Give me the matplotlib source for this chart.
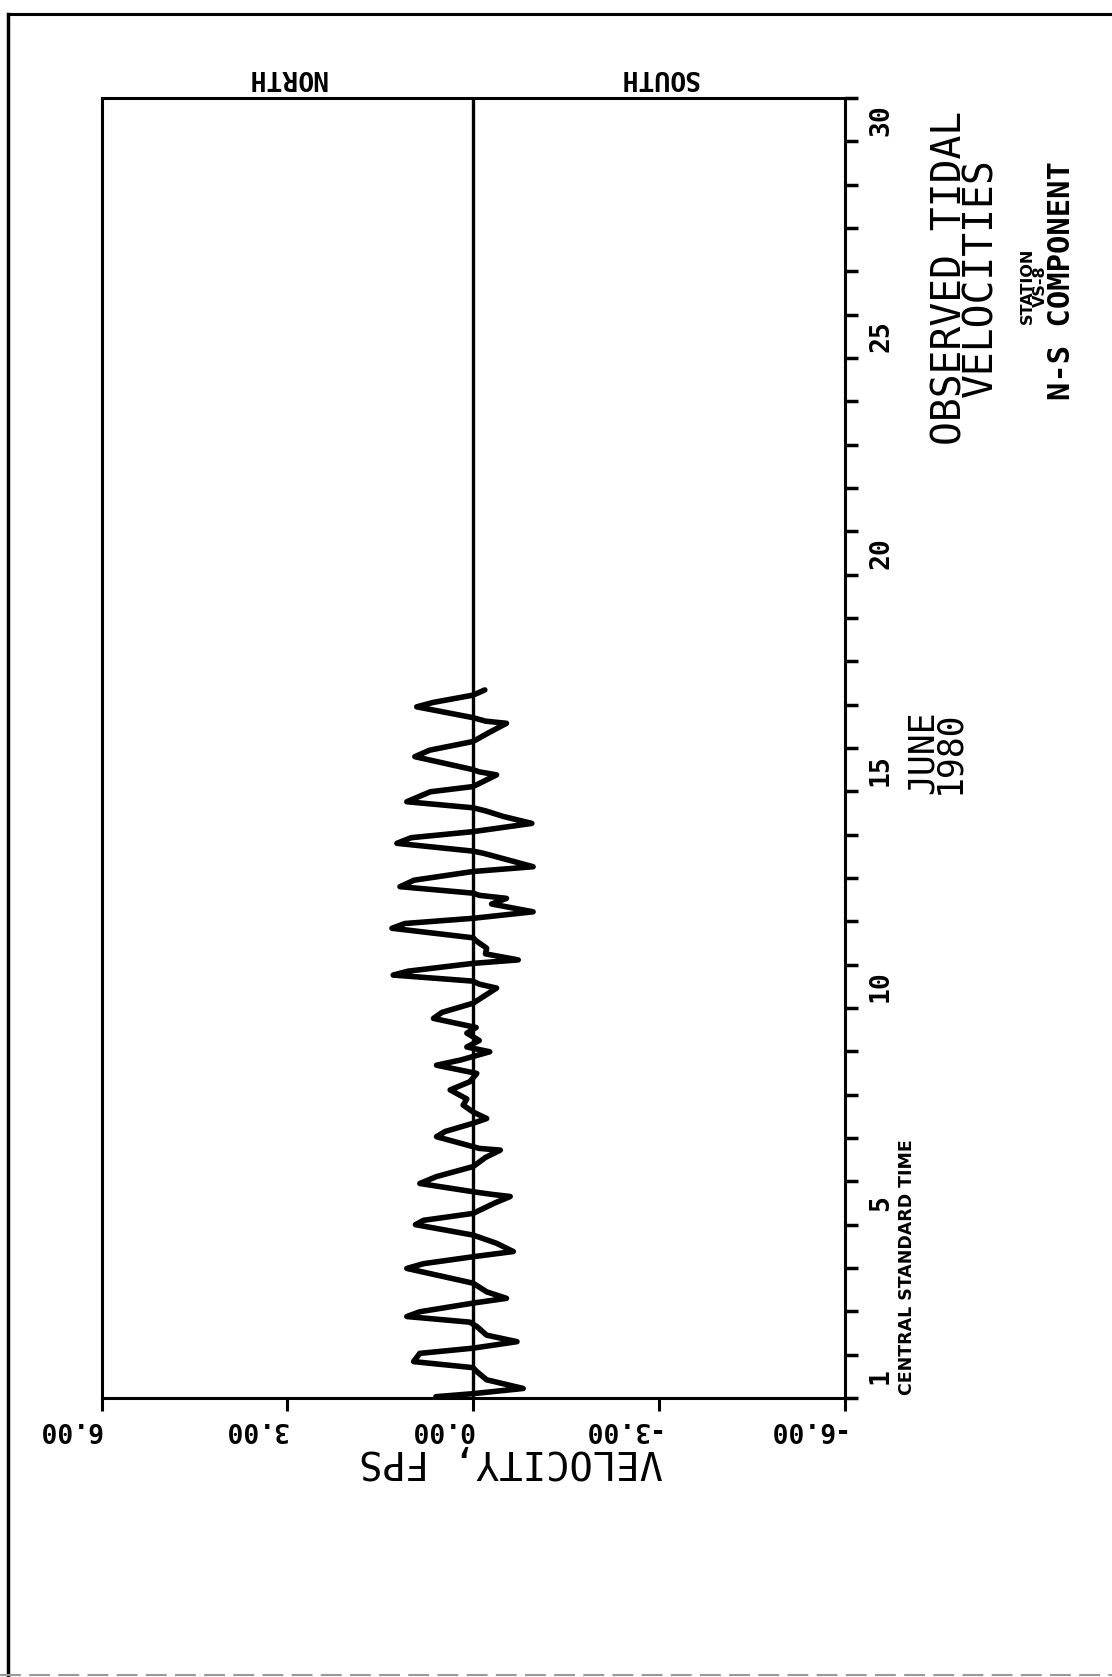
import matplotlib
matplotlib.use("Agg")
import matplotlib.pyplot as plt
from matplotlib.lines import Line2D

# ----------------------------
# DATA
# ----------------------------
day = [
    1.03, 1.10, 1.22, 1.42, 1.61, 1.70, 1.84, 2.03, 2.15, 2.30,
    2.45, 2.65, 2.75, 2.88, 2.99, 3.19, 3.30, 3.45, 3.65, 3.99,
    4.10, 4.26, 4.38, 4.57, 4.76, 5.00, 5.10, 5.26, 5.50, 5.65,
    5.70, 5.76, 5.95, 6.11, 6.34, 6.55, 6.72, 6.76, 6.80, 7.03,
    7.15, 7.34, 7.45, 7.60, 7.76, 7.90, 8.11, 8.30, 8.49, 8.68,
    8.80, 8.99, 9.10, 9.25, 9.42, 9.55, 9.76, 9.90, 10.11, 10.46,
    10.55, 10.62, 10.76, 10.85, 11.03, 11.11, 11.25, 11.38, 11.55, 11.62,
    11.84, 11.95, 12.07, 12.22, 12.40, 12.53, 12.60, 12.65, 12.80, 12.95,
    13.15, 13.26, 13.57, 13.62, 13.80, 13.93, 14.07, 14.26, 14.42, 14.55,
    14.62, 14.76, 14.99, 15.11, 15.38, 15.45, 15.50, 15.80, 15.95, 16.15,
    16.35, 16.57, 16.62, 16.70, 16.95, 17.05, 17.22, 17.34,
]
velocity = [
    0.60, 0.00, -0.81, -0.22, -0.06, 0.00, 0.96, 0.86, 0.00, -0.71,
    -0.22, -0.06, 0.05, 1.07, 0.86, 0.00, -0.54, -0.22, 0.00, 1.07,
    0.80, 0.00, -0.65, -0.38, 0.00, 0.93, 0.80, 0.00, -0.35, -0.60,
    -0.30, 0.00, 0.86, 0.59, 0.00, -0.20, -0.44, -0.10, 0.00, 0.59,
    0.45, 0.00, -0.22, 0.00, 0.16, 0.10, 0.37, 0.05, -0.06, 0.59,
    0.20, -0.27, 0.10, -0.10, 0.10, -0.05, 0.64, 0.50, 0.00, -0.38,
    -0.10, 0.00, 1.29, 1.05, 0.00, -0.73, -0.20, -0.22, -0.05, 0.00,
    1.31, 1.10, 0.00, -0.97, -0.30, -0.54, -0.10, 0.00, 1.18, 0.95,
    0.00, -0.97, -0.17, 0.00, 1.23, 1.00, 0.00, -0.95, -0.49, -0.20,
    0.00, 1.07, 0.69, 0.00, -0.38, -0.10, 0.00, 0.94, 0.70, 0.00,
    -0.25, -0.54, -0.20, 0.00, 0.91, 0.65, 0.00, -0.19,
]

vel_ticks = [6, 3, 0, -3, -6]
vel_labels = ["6.00", "3.00", "0.00", "-3.00", "-6.00"]
day_label_vals = [1, 5, 10, 15, 20, 25, 30]

W, H = 1112, 1677
MONO = "DejaVu Sans Mono"


def fx(px):
    return px / W


def fy(py):
    return 1 - py / H


fig = plt.figure(figsize=(W / 100, H / 100), dpi=100)
fig.patch.set_facecolor("white")

# page frame (scan border)
fig.add_artist(Line2D([fx(8), fx(8)], [0, fy(14)], transform=fig.transFigure,
                      color="black", lw=2.5))
fig.add_artist(Line2D([fx(8), 1], [fy(14), fy(14)], transform=fig.transFigure,
                      color="black", lw=2.2))
fig.add_artist(Line2D([0, 1], [fy(1675), fy(1675)], transform=fig.transFigure,
                      color="#999999", lw=1.5, ls=(0, (10, 4))))

left, right, top, bottom = 101.6, 844.5, 98, 1398
ax = fig.add_axes([fx(left), fy(bottom), fx(right - left), (bottom - top) / H])

ax.plot(velocity, day, color="black", lw=4, solid_joinstyle="round",
        solid_capstyle="round")
ax.axvline(0, color="black", lw=2.4)

ax.set_xlim(6, -6)
ax.set_ylim(1, 31)

for s in ax.spines.values():
    s.set_linewidth(2.2)

# velocity axis (upside down labels)
ax.set_xticks(vel_ticks)
ax.set_xticklabels(vel_labels, rotation=180, ha="right", fontfamily=MONO,
                   fontsize=19, fontweight="bold")
ax.tick_params(axis="x", direction="out", length=9, width=2.2, pad=4)

# day axis on the right
ax.yaxis.tick_right()
ax.set_yticks(range(1, 32))
ax.set_yticklabels([""] * 31)
ax.set_yticks([d + 0.5 for d in day_label_vals], minor=True)
ax.set_yticklabels([str(d) for d in day_label_vals], minor=True, rotation=90,
                   va="center", fontfamily=MONO, fontsize=19, fontweight="bold")
ax.tick_params(axis="y", which="major", direction="out", length=9, width=2.5)
ax.tick_params(axis="y", which="minor", length=0, pad=17)

# axis titles
fig.text(fx(511), fy(1461), "VELOCITY, FPS", rotation=180, ha="center",
         va="center", fontfamily=MONO, fontsize=28)
fig.text(fx(287), fy(77), "NORTH", rotation=180, ha="center", va="center",
         fontfamily=MONO, fontsize=19, fontweight="bold")
fig.text(fx(659), fy(77), "SOUTH", rotation=180, ha="center", va="center",
         fontfamily=MONO, fontsize=19, fontweight="bold")
fig.text(fx(907), fy(1395), "CENTRAL STANDARD TIME", rotation=90,
         rotation_mode="anchor", ha="left", va="center",
         fontfamily="DejaVu Sans", fontsize=12.5, fontweight="bold")

# month label
fig.text(fx(936), fy(752), "JUNE\n1980", rotation=90, ha="center",
         va="center", fontfamily=MONO, fontsize=25, linespacing=0.72)

# title block
fig.text(fx(966), fy(278), "OBSERVED TIDAL\nVELOCITIES", rotation=90,
         ha="center", va="center", fontfamily=MONO, fontsize=28.5,
         linespacing=0.7)
fig.text(fx(1034), fy(286), "STATION\nVS-8", rotation=90, ha="center",
         va="center", fontfamily="DejaVu Sans", fontsize=11.5,
         fontweight="bold", linespacing=0.85)
fig.text(fx(1061), fy(281), "N-S COMPONENT", rotation=90, ha="center",
         va="center", fontfamily=MONO, fontsize=22, fontweight="bold")

fig.savefig("out.png", dpi=100, facecolor="white")
